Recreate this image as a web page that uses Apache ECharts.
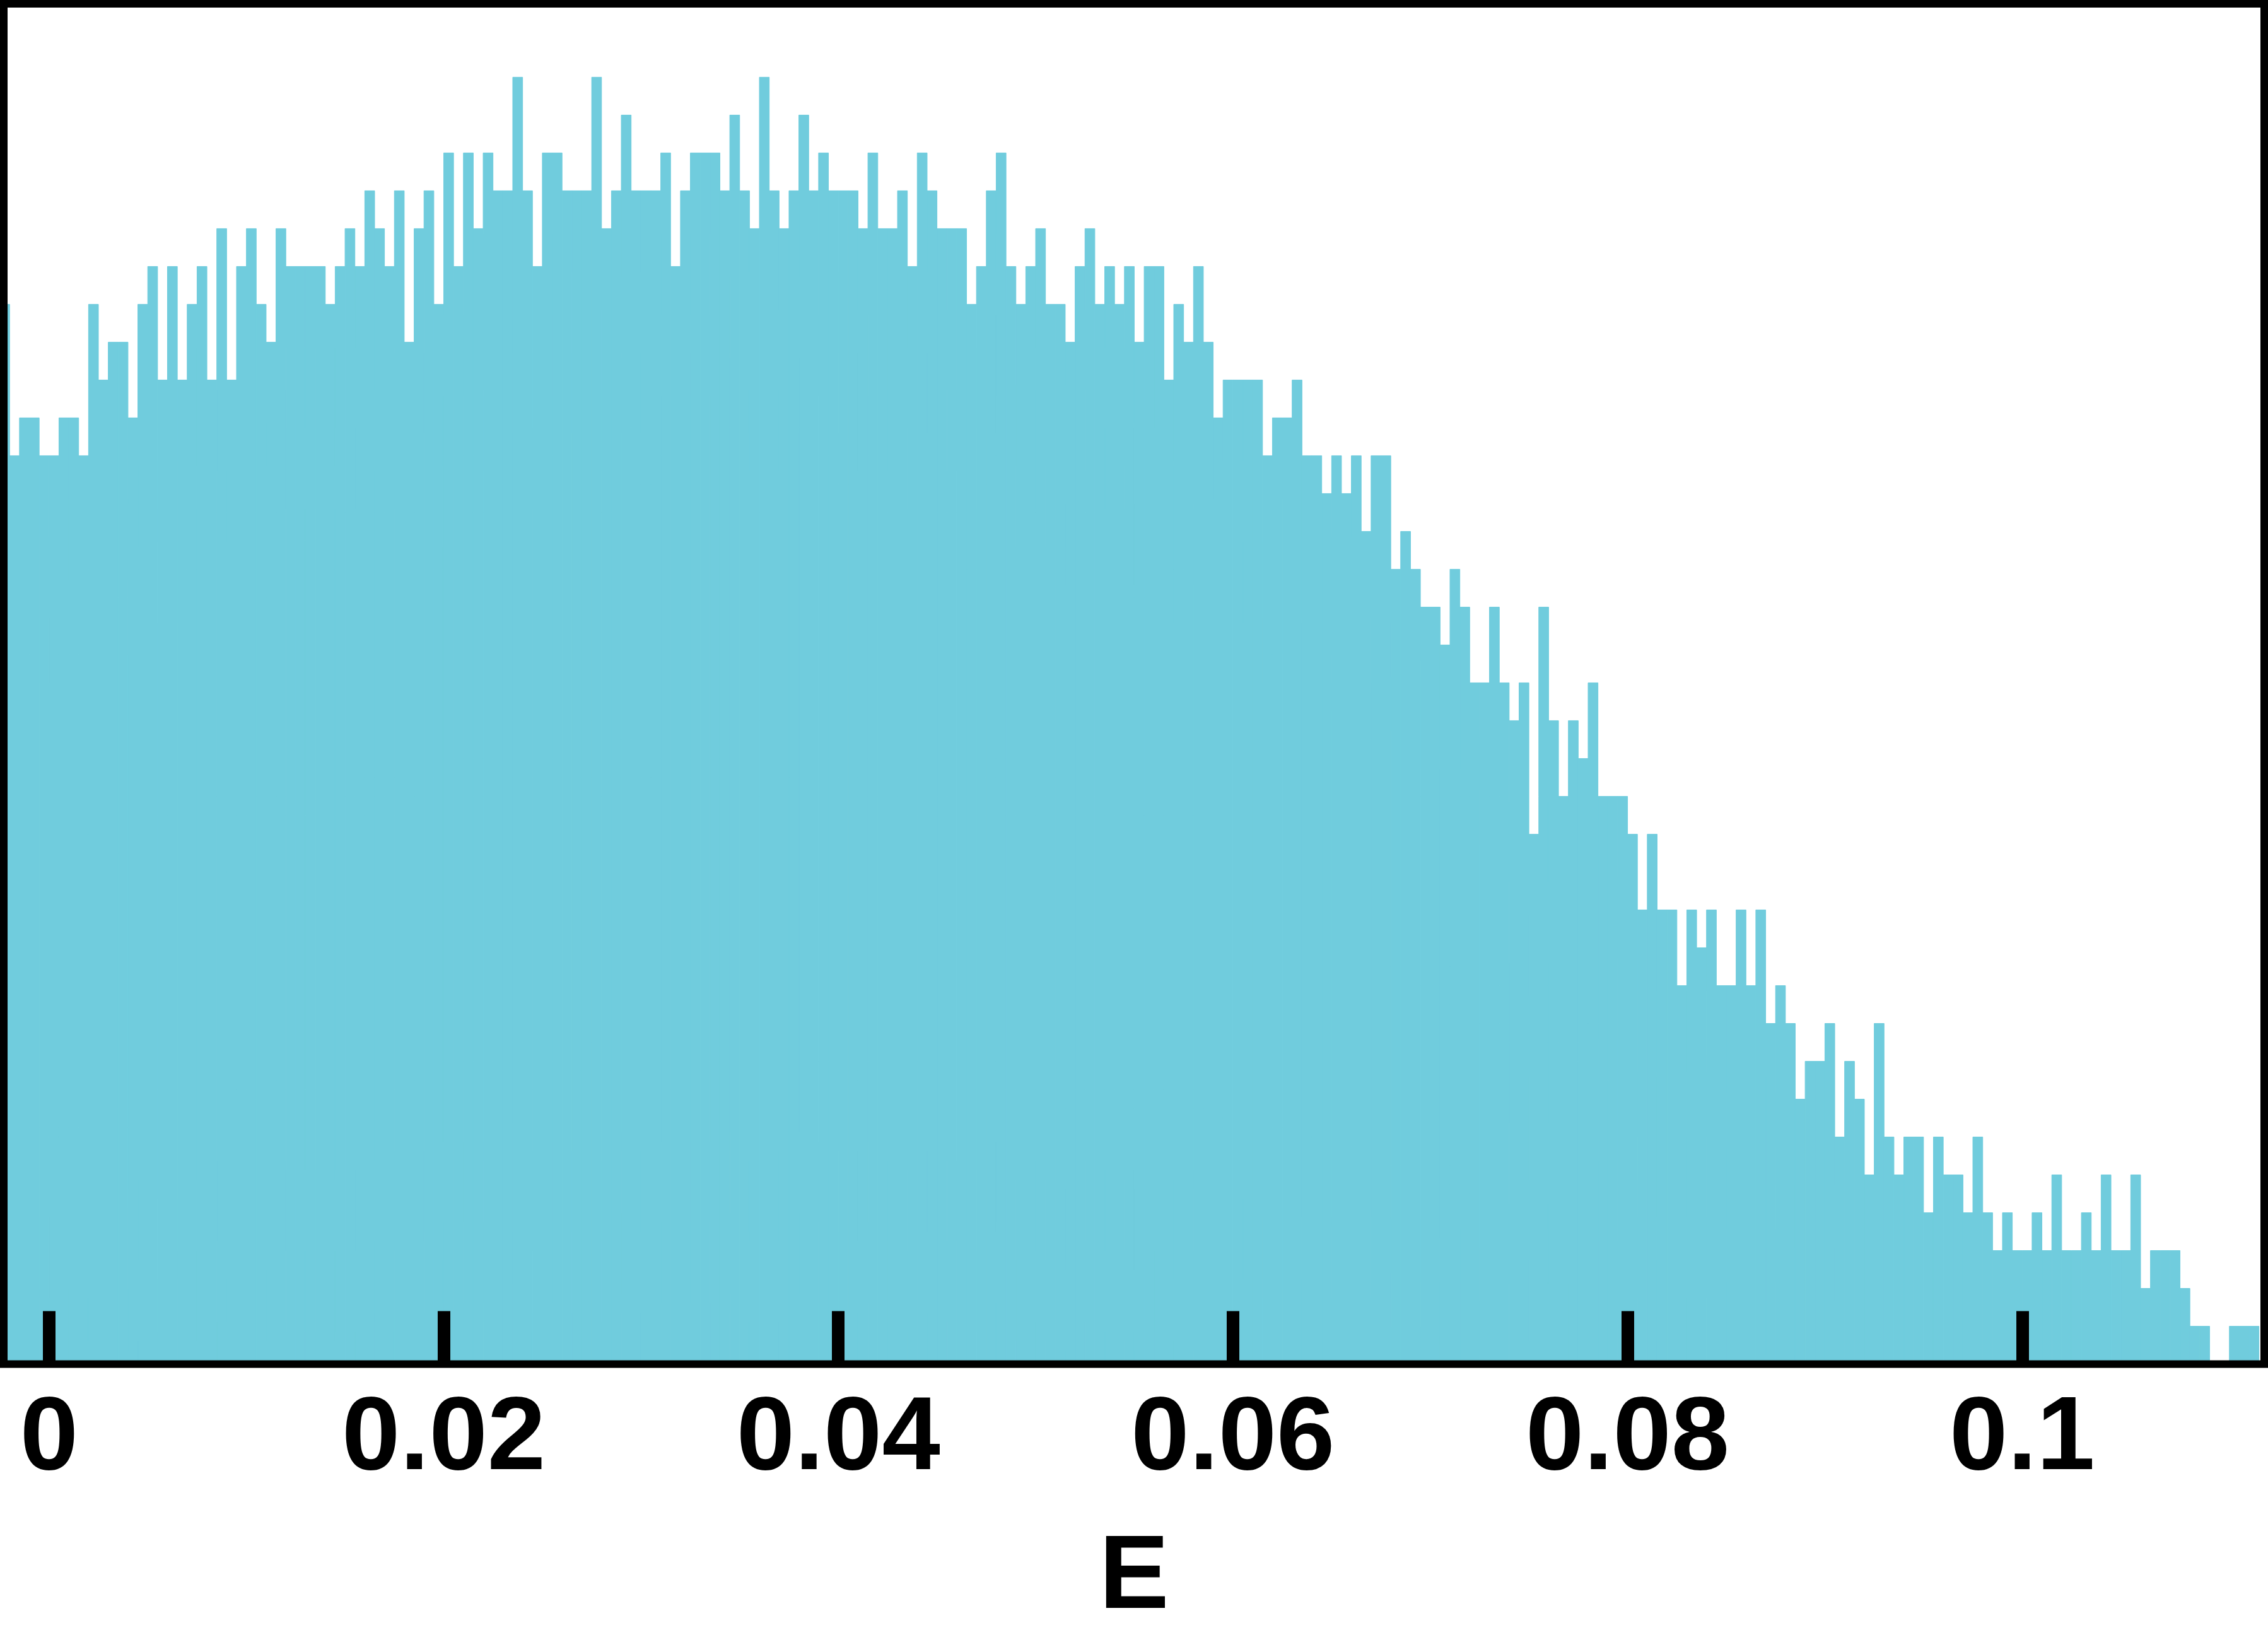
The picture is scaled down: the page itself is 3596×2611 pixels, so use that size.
<!DOCTYPE html>
<html>
<head>
<meta charset="utf-8">
<title>E histogram</title>
<script src="https://cdn.jsdelivr.net/npm/echarts@6/dist/echarts.min.js"></script>
<style>
  html, body { margin: 0; padding: 0; background: #fff; }
  #chart { width: 3596px; height: 2611px; }
</style>
</head>
<body>
<div id="chart"></div>
<script>
// histogram bins: first bin starts at -0.0025, each 0.0005 wide
const binStart = -0.0025
const binWidth = 0.0005

// counts per bin (left to right)
const counts = [
  28, 24, 25, 25, 24, 24, 25, 25, 24, 28,
  26, 27, 27, 25, 28, 29, 26, 29, 26, 28,
  29, 26, 30, 26, 29, 30, 28, 27, 30, 29,
  29, 29, 29, 28, 29, 30, 29, 31, 30, 29,
  31, 27, 30, 31, 28, 32, 29, 32, 30, 32,
  31, 31, 34, 31, 29, 32, 32, 31, 31, 31,
  34, 30, 31, 33, 31, 31, 31, 32, 29, 31,
  32, 32, 32, 31, 33, 31, 30, 34, 31, 30,
  31, 33, 31, 32, 31, 31, 31, 30, 32, 30,
  30, 31, 29, 32, 31, 30, 30, 30, 28, 29,
  31, 32, 29, 28, 29, 30, 28, 28, 27, 29,
  30, 28, 29, 28, 29, 27, 29, 29, 26, 28,
  27, 29, 27, 25, 26, 26, 26, 26, 24, 25,
  25, 26, 24, 24, 23, 24, 23, 24, 22, 24,
  24, 21, 22, 21, 20, 20, 19, 21, 20, 18,
  18, 20, 18, 17, 18, 14, 20, 17, 15, 17,
  16, 18, 15, 15, 15, 14, 12, 14, 12, 12,
  10, 12, 11, 12, 10, 10, 12, 10, 12, 9,
  10, 9, 7, 8, 8, 9, 6, 8, 7, 5,
  9, 6, 5, 6, 6, 4, 6, 5, 5, 4,
  6, 4, 3, 4, 3, 3, 4, 3, 5, 3,
  3, 4, 3, 5, 3, 3, 5, 2, 3, 3,
  3, 2, 1, 1, 0, 0, 1, 1, 1
]

const tickValues = [0, 0.02, 0.04, 0.06, 0.08, 0.1]

const xMin = -0.002295
const xMax = 0.112266
const yMax = 35.94

const bins = counts.map((c, i) => {
  const x0 = +(binStart + i * binWidth).toFixed(4)
  return [x0, +(x0 + binWidth).toFixed(4), c]
})

const chart = echarts.init(document.getElementById('chart'))

const option = {
  backgroundColor: '#fff',
  animation: false,
  grid: {
    left: 6,
    top: 6,
    width: 3584,
    height: 2156.5,
    show: true,
    z: 10,
    backgroundColor: 'transparent',
    borderColor: '#000',
    borderWidth: 12
  },
  xAxis: {
    type: 'value',
    min: xMin,
    max: xMax,
    z: 11,
    splitLine: { show: false },
    axisLine: { show: false },
    axisTick: {
      show: true,
      inside: true,
      length: 84,
      customValues: tickValues,
      lineStyle: { color: '#000', width: 20 }
    },
    axisLabel: {
      show: true,
      customValues: tickValues,
      margin: 38,
      color: '#000',
      fontSize: 166,
      fontWeight: 'bold',
      fontFamily: 'Liberation Sans, Arial, sans-serif',
      formatter: v => String(v)
    },
    name: 'E',
    nameLocation: 'middle',
    nameGap: 258,
    nameTextStyle: {
      color: '#000',
      fontSize: 166,
      fontWeight: 'bold',
      fontFamily: 'Liberation Sans, Arial, sans-serif'
    }
  },
  yAxis: {
    type: 'value',
    min: 0,
    max: yMax,
    show: false
  },
  series: [
    {
      type: 'custom',
      clip: true,
      data: bins,
      encode: { x: [0, 1], y: 2 },
      renderItem(params, api) {
        const p0 = api.coord([api.value(0), 0])
        const p1 = api.coord([api.value(1), api.value(2)])
        const rect = echarts.graphic.clipRectByRect(
          { x: p0[0], y: p1[1], width: p1[0] - p0[0], height: p0[1] - p1[1] },
          { x: params.coordSys.x, y: params.coordSys.y, width: params.coordSys.width, height: params.coordSys.height }
        )
        if (!rect) return
        return {
          type: 'rect',
          shape: rect,
          style: { fill: '#70ccdd', stroke: '#70ccdd', lineWidth: 1 }
        }
      }
    }
  ]
}

chart.setOption(option)
</script>
</body>
</html>
